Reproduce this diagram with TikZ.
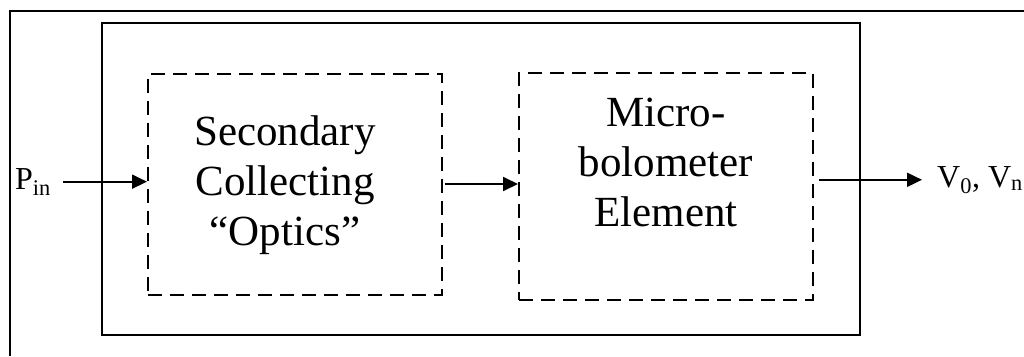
\documentclass[tikz,border=0pt]{standalone}
\usepackage{fontspec}
\setmainfont{Liberation Serif}
\usetikzlibrary{arrows.meta}
\begin{document}
\begin{tikzpicture}[x=1pt,y=-1pt,
  frame/.style={line width=2.2pt},
  solidbox/.style={draw,line width=2.2pt,inner sep=0pt},
  dashbox/.style={draw,line width=2pt,dash pattern=on 14pt off 8pt,inner sep=0pt,minimum width=294pt},
  bigtext/.style={align=center,inner sep=0pt,font=\fontsize{43}{50}\selectfont},
  sigtext/.style={inner sep=0pt,font=\fontsize{32}{38}\selectfont},
  arr/.style={line width=1.9pt,-{Triangle[length=15pt,width=14pt]}}]
\useasboundingbox (0,0) rectangle (1024,356);
% outer frame (runs beyond the picture on the right and bottom)
\draw[frame] (10,356) -- (10,11) -- (1024,11);
% system box
\node[solidbox,minimum width=758pt,minimum height=312pt] (sys) at (481,179) {};
% dashed boxes
\node[dashbox,minimum height=221pt] (b1) at (295,184) {};
\node[dashbox,minimum height=227pt] (b2) at (666,186.5) {};
\node[bigtext] (t1) at (285,185) {Secondary\\Collecting\\“Optics”};
\node[bigtext] (t2) at (666,162) {Micro-\\bolometer\\Element};
% signals
\node[sigtext,anchor=base west] (pin) at (15,189) {P\textsubscript{in}};
\node[sigtext,anchor=base west] (vout) at (937,187) {V\textsubscript{0}, V\textsubscript{n}};
\draw[arr] ([xshift=12pt]pin.east) -- (pin.east -| b1.west);
\draw[arr] ([xshift=2pt]b1.east) -- (b1.east -| b2.west);
\draw[arr] ([xshift=5pt]b2.east |- vout.west) -- ([xshift=-15pt]vout.west);
\end{tikzpicture}
\end{document}
